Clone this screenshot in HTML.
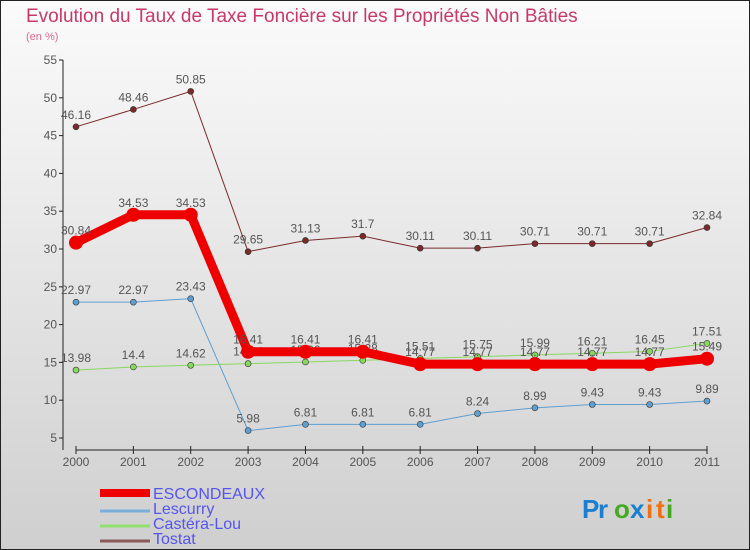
<!DOCTYPE html>
<html><head><meta charset="utf-8"><style>
body{margin:0;}
#wrap{width:750px;height:550px;position:relative;box-sizing:border-box;border:1px solid #222;background:linear-gradient(#fbfbfb,#cfcfcf);font-family:"Liberation Sans","DejaVu Sans",sans-serif;overflow:hidden}
</style></head><body>
<div id="wrap">
<svg width="750" height="550" id="svg" style="position:absolute;left:-1px;top:-1px"></svg>
</div>
<script>
const years=["2000","2001","2002","2003","2004","2005","2006","2007","2008","2009","2010","2011"];
const escondeaux=[30.84,34.53,34.53,16.41,16.41,16.41,14.77,14.77,14.77,14.77,14.77,15.49];
const lescurry=[22.97,22.97,23.43,5.98,6.81,6.81,6.81,8.24,8.99,9.43,9.43,9.89];
const castera=[13.98,14.4,14.62,14.84,15.06,15.28,15.51,15.75,15.99,16.21,16.45,17.51];
const tostat=[46.16,48.46,50.85,29.65,31.13,31.7,30.11,30.11,30.71,30.71,30.71,32.84];
const yTicks=[5,10,15,20,25,30,35,40,45,50,55];
const NS="http://www.w3.org/2000/svg";
const svg=document.getElementById('svg');
function X(i){return 76+i*(707-76)/(years.length-1);}
function Y(v){return 438-(v-5)*7.56;}
function mk(t,a,name,txt){const e=document.createElementNS(NS,t);for(const k in a)e.setAttribute(k,a[k]);


if(txt!==undefined)e.textContent=txt;svg.appendChild(e);return e;}
mk('text',{x:26,y:22,fill:'#c8386a','font-size':19},'chart-title','Evolution du Taux de Taxe Foncière sur les Propriétés Non Bâties');
mk('text',{x:26,y:40,fill:'#d86a8f','font-size':11},'y-axis-unit','(en %)');
mk('line',{x1:63,y1:60,x2:63,y2:450,stroke:'#222'},'y-axis');
mk('line',{x1:76,y1:450,x2:707,y2:450,stroke:'#222'},'x-axis');
yTicks.forEach(v=>{mk('line',{x1:59,y1:Y(v),x2:63,y2:Y(v),stroke:'#222'},'y-tick');
mk('text',{x:57,y:Y(v)+4,'text-anchor':'end','font-size':12,fill:'#555'},'y-tick-label',v);});
years.forEach((y,i)=>{mk('line',{x1:X(i),y1:446,x2:X(i),y2:454,stroke:'#222'},'x-tick');
mk('text',{x:X(i),y:466,'text-anchor':'middle','font-size':12,fill:'#555'},'x-tick-label',y);});
function series(arr,color,w,r,name){
mk('polyline',{points:arr.map((v,i)=>X(i)+','+Y(v)).join(' '),fill:'none',stroke:color,'stroke-width':w},name+'-line');
arr.forEach((v,i)=>{mk('circle',{cx:X(i),cy:Y(v),r:r,fill:color,stroke:'#333','stroke-width':r>5?0:0.6},name+'-point');
mk('text',{x:X(i),y:Y(v)-8,'text-anchor':'middle','font-size':12,fill:'#555'},name+'-value',String(v));});}
series(tostat,'#7a2a2a',1,3,'tostat');
series(lescurry,'#5e9fd0',1,3,'lescurry');
series(castera,'#88d860',1,3,'castera-lou');
series(escondeaux,'#ee0000',9,7,'escondeaux');
const leg=[['ESCONDEAUX','#ee0000',8],['Lescurry','#7aaedb',3],['Castéra-Lou','#90e070',3],['Tostat','#8a5a5a',3]];
leg.forEach((l,i)=>{const y=493+i*15;
mk('line',{x1:100,y1:y+(i?3:0),x2:150,y2:y+(i?3:0),stroke:l[1],'stroke-width':l[2]},'legend-swatch');
mk('text',{x:153,y:y+6,'font-size':16,fill:'#5555ee'},'legend-entry',l[0]);});
const p=[['P','#1a7fd0'],['r','#1a7fd0'],['o','#44aa22'],['x','#1a7fd0'],['i','#f07010'],['t','#f07010'],['i','#44aa22']];
let px=582;p.forEach(c=>{mk('text',{x:px,y:518,'font-size':26,'font-weight':'bold',fill:c[1]},'logo-letter',c[0]);px+=c[0]==='i'||c[0]==='t'?10:16;});
</script>
</body></html>
